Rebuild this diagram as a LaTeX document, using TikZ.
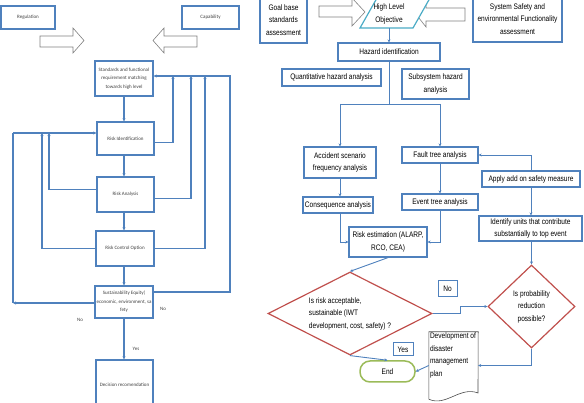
\documentclass[tikz,border=0pt]{standalone}
\usepackage{fontspec}
\setmainfont{Liberation Sans}
\newfontfamily\narrowfont[FakeStretch=0.82]{Liberation Sans}
\newfontfamily\smallfont{Carlito}
\usetikzlibrary{arrows.meta, shapes.geometric}

\definecolor{boxblue}{RGB}{79,129,189}
\definecolor{diared}{RGB}{192,80,77}
\definecolor{endgreen}{RGB}{155,187,89}
\definecolor{objcyan}{RGB}{75,172,198}
\definecolor{arrowgray}{RGB}{128,128,128}

\begin{document}
\begin{tikzpicture}[x=1pt, y=-1pt,
    lbox/.style={draw=boxblue, line width=1.3pt, fill=white, inner sep=1pt, align=center,
        text=black!75, font=\smallfont\fontsize{5}{8.5}\selectfont},
    rbox/.style={draw=boxblue, line width=1.2pt, fill=white, inner sep=1pt, align=center,
        font=\narrowfont\fontsize{8}{12.5}\selectfont},
    lflow/.style={draw=boxblue, line width=1.2pt, -{Stealth[length=3pt,width=3pt]}},
    lline/.style={draw=boxblue, line width=1.2pt},
    rflow/.style={draw=boxblue, line width=0.9pt, -{Stealth[length=3pt,width=3pt]}},
    rline/.style={draw=boxblue, line width=0.9pt},
    blockarrow/.style={draw=arrowgray, line width=0.6pt, fill=white},
    decision/.style={diamond, draw=diared, line width=1.2pt, inner sep=0pt,
        font=\narrowfont\fontsize{8}{12.5}\selectfont},
    lnote/.style={text=black!75, font=\smallfont\fontsize{5}{6}\selectfont},
    tag/.style={draw=boxblue, line width=1pt, inner sep=1pt,
        font=\narrowfont\fontsize{8}{10}\selectfont}]

    \useasboundingbox (0,0) rectangle (584,403);
    \clip (0,0) rectangle (584,403);

    % left chart
    \node[lbox, minimum width=54pt, minimum height=23pt] (reg) at (28,17.5) {Regulation};
    \node[lbox, minimum width=57pt, minimum height=23pt] (cap) at (210.5,17.5) {Capability};

    \draw[blockarrow] (40,36) -- (73,36) -- (73,28) -- (84,40.5) -- (73,53) -- (73,47) -- (40,47) -- cycle;
    \draw[blockarrow] (197,36) -- (164,36) -- (164,28) -- (153,40.5) -- (164,53) -- (164,47) -- (197,47) -- cycle;

    \node[lbox, minimum width=58pt, minimum height=35pt] (std) at (124,78.5) {Standards and functional\\requirement matching\\towards high level};
    \node[lbox, minimum width=57pt, minimum height=33pt] (rid) at (125.5,138.5) {Risk Identification};
    \node[lbox, minimum width=57pt, minimum height=35pt] (ran) at (125.5,194.5) {Risk Analysis};
    \node[lbox, minimum width=58pt, minimum height=35pt] (rco) at (125,248.5) {Risk Control Option};
    \node[lbox, minimum width=58pt, minimum height=32pt] (sus) at (124,302) {Sustainability Equity(\\economic, environment, sa\\fety};
    \node[lbox, minimum width=57pt, minimum height=50pt] (dec) at (124.5,385) {Decision recomendation};

    \draw[lflow] (std.south) -- (std.south |- rid.north);
    \draw[lflow] (std.south |- rid.south) -- (std.south |- ran.north);
    \draw[lflow] (std.south |- ran.south) -- (std.south |- rco.north);
    \draw[lflow] (std.south |- rco.south) -- (std.south |- sus.north);
    \draw[lflow] (sus.south) -- (sus.south |- dec.north);

    \coordinate (fbtop) at (230,76);
    \draw[lflow] ([yshift=-4pt]rid.east) -| (173,76);
    \draw[lflow] ([yshift=-4pt]ran.east) -| (191,76);
    \draw[lflow] (rco.east) -| (205,76);
    \draw[lflow] ([yshift=10pt]sus.east) -| (fbtop) -- (fbtop -| std.east);

    \coordinate (lbtop) at (13,133);
    \coordinate (lbbot) at (13,303);
    \draw[lflow] (lbtop) -- (lbtop -| rid.west);
    \draw[lflow] ([yshift=5pt]ran.west) -| (49,133);
    \draw[lflow] (rco.west) -| (42,133);
    \draw[lflow] ([yshift=-1pt]sus.west) -- (lbbot);
    \draw[lline] (lbbot) -- (lbtop);

    \node[lnote] (nol) at (80,320) {No};
    \node[lnote] (nor) at (163,309) {No};
    \node[lnote] (yesl) at (136,349) {Yes};

    % right chart
    \node[rbox, minimum width=47pt, minimum height=46pt] (goal) at (283.5,20) {Goal base\\standards\\assessment};
    \node[rbox, minimum width=89pt, minimum height=46pt] (sys) at (517.5,19) {System Safety and\\environmental Functionality\\assessment};

    \draw[blockarrow] (319,6) -- (352,6) -- (352,-2) -- (365,12) -- (352,26) -- (352,17) -- (319,17) -- cycle;
    \draw[blockarrow] (465,8) -- (426,8) -- (426,-1) -- (415,13) -- (426,27) -- (426,21) -- (465,21) -- cycle;

    \draw[draw=objcyan, line width=1.2pt, fill=white] (360,28) -- (413,28) -- (430,-2) -- (377,-2) -- cycle;
    \node[inner sep=0pt, minimum width=40pt, minimum height=28pt, align=center,
        font=\narrowfont\fontsize{8}{12.5}\selectfont] (hlo) at (389,14) {High Level\\Objective};

    \node[rbox, minimum width=102pt, minimum height=18pt] (haz) at (389,52) {Hazard identification};
    \node[rbox, minimum width=99pt, minimum height=17pt] (qha) at (331.5,77.5) {Quantitative hazard analysis};
    \node[rbox, minimum width=67pt, minimum height=30pt] (sha) at (435.5,84) {Subsystem hazard\\analysis};
    \node[rbox, minimum width=72pt, minimum height=31pt] (acc) at (340,162.5) {Accident scenario\\frequency analysis};
    \node[rbox, minimum width=70pt, minimum height=16pt] (con) at (338,205) {Consequence analysis};
    \node[rbox, minimum width=76pt, minimum height=16pt] (fta) at (440,155) {Fault tree analysis};
    \node[rbox, minimum width=76pt, minimum height=16pt] (eta) at (440,202) {Event tree analysis};
    \node[rbox, minimum width=98pt, minimum height=16pt] (aos) at (531,179) {Apply add on safety measure};
    \node[rbox, minimum width=103pt, minimum height=25pt] (idu) at (530.5,228.5) {Identify units that contribute\\substantially to top event};
    \node[rbox, minimum width=78pt, minimum height=30pt] (rse) at (388,242) {Risk estimation (ALARP,\\RCO, CEA)};

    \node[decision, aspect=2, minimum width=164pt, minimum height=83pt, align=left] (d1) at (350,313.5)
        {Is risk acceptable,\\sustainable (IWT\\development, cost, safety) ?};
    \node[decision, aspect=1, minimum width=87pt, minimum height=83pt, align=center] (d2) at (531.5,306.5)
        {Is probability\\reduction\\possible?};

    \node[draw=endgreen, line width=1.5pt, fill=white, rounded corners=10pt, minimum width=55pt, minimum height=21pt,
        font=\narrowfont\fontsize{8}{10}\selectfont] (end) at (387.5,371.5) {End};

    \node[minimum width=49pt, minimum height=67pt, inner sep=0pt] (doc) at (453.5,365.5) {};
    \draw[draw=black!70, line width=0.6pt, fill=white] (doc.south west) -- (doc.north west) -- (doc.north east)
        -- (478,393) .. controls (460,386) and (446,407) .. (doc.south west);
    \node[anchor=north west, inner sep=1pt, align=left, font=\narrowfont\fontsize{8}{12.5}\selectfont]
        (doctext) at (doc.north west) {Development of\\disaster\\management\\plan};

    \node[tag, minimum width=19pt, minimum height=16pt] (notag) at (447.5,289) {No};
    \node[tag, minimum width=20pt, minimum height=13pt] (yestag) at (403,349.5) {Yes};

    \coordinate (splitl) at (340,104);
    \coordinate (splitr) at (440,104);
    \draw[rflow] (hlo.south) -- (haz.north);
    \draw[rline] (haz.south) -- (haz.south |- splitl);
    \draw[rline] (splitl) -- (splitr);
    \draw[rflow] (splitl) -- (acc.north);
    \draw[rflow] (splitr) -- (fta.north);
    \draw[rflow] (acc.south) -- (acc.south |- con.north);
    \draw[rflow] (con.south -| acc.south) |- (rse.west);
    \draw[rflow] (fta.south) -- (eta.north);
    \draw[rflow] (eta.south) |- (rse.east);
    \draw[rflow] (aos.north) |- (fta.east);
    \draw[rflow] (aos.south) -- (aos.south |- idu.north);
    \draw[rflow] (idu.south -| d2.north) -- (d2.north);
    \draw[rflow] (rse.south) -- (d1.north);
    \draw[rflow] (d1.east) -- ++(28,0) |- (d2.west);
    \draw[rflow] (d1.south) -- (end.north);
    \draw[rflow] (d2.south) |- (doc.east);
    \draw[rflow] (doc.west) -- (end.east);
\end{tikzpicture}
\end{document}
